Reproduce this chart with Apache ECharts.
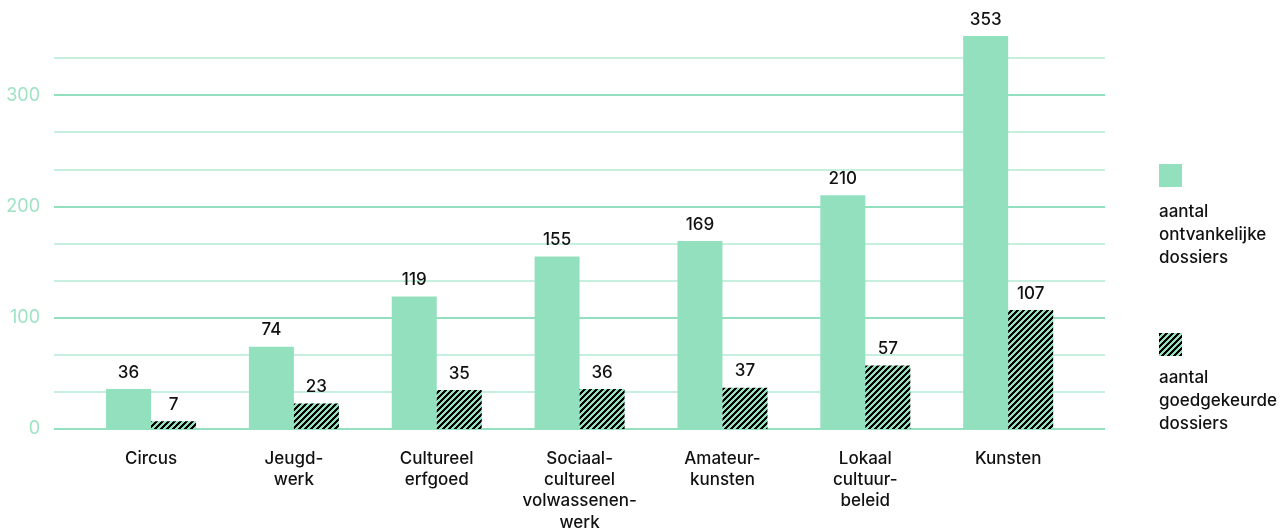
<!DOCTYPE html>
<html>
<head>
<meta charset="utf-8">
<script src="https://cdn.jsdelivr.net/npm/echarts@6/dist/echarts.min.js"></script>
<style>
html,body{margin:0;padding:0;background:#fff;}
#chart{width:1285px;height:528px;}
</style>
</head>
<body>
<div id="chart"></div>
<script>
const categories = ['Circus', 'Jeugd-\nwerk', 'Cultureel\nerfgoed', 'Sociaal-\ncultureel\nvolwassenen-\nwerk', 'Amateur-\nkunsten', 'Lokaal\ncultuur-\nbeleid', 'Kunsten'];
const ontvankelijk = [36, 74, 119, 155, 169, 210, 353];
const goedgekeurd = [7, 23, 35, 36, 37, 57, 107];
const seriesNames = ['aantal\nontvankelijke\ndossiers', 'aantal\ngoedgekeurde\ndossiers'];
const yMajorTicks = [0, 100, 200, 300];

const GREEN = '#93e0bf';
const LIGHT = '#c6efdd';
const FONT = 'Inter, "Liberation Sans", Arial, sans-serif';

function hatch() {
  const c = document.createElement('canvas');
  c.width = 6; c.height = 6;
  const ctx = c.getContext('2d');
  for (let x = 0; x < 6; x++) for (let y = 0; y < 6; y++) {
    ctx.fillStyle = ((x + y) % 6) < 3 ? '#000' : GREEN;
    ctx.fillRect(x, y, 1, 1);
  }
  return c;
}
const pattern = { image: hatch(), repeat: 'repeat' };

const yMax = 1000 / 3;
const chart = echarts.init(document.getElementById('chart'), null, { renderer: 'canvas' });
const labelStyle = { show: true, position: 'top', distance: 8, color: '#111', fontSize: 17, fontFamily: FONT, fontWeight: 500 };

chart.setOption({
  animation: false,
  textStyle: { fontFamily: FONT },
  grid: [
    { left: 54, right: 180, top: 58, bottom: 99, outerBoundsMode: 'none', containLabel: false },
    { left: 79.6, right: 205.4, top: 58, bottom: 99, outerBoundsMode: 'none', containLabel: false }
  ],
  xAxis: [
    { type: 'value', gridIndex: 0, show: false, min: 0, max: 1 },
    { type: 'category', gridIndex: 1, data: categories,
      axisLine: { show: false }, axisTick: { show: false },
      axisLabel: { color: '#111', fontSize: 17, fontFamily: FONT, fontWeight: 500, lineHeight: 21.3, margin: 19, interval: 0 } }
  ],
  yAxis: [
    { type: 'value', gridIndex: 0, min: 0, max: yMax, interval: 100 / 3,
      axisLine: { show: false }, axisTick: { show: false }, axisLabel: { show: false },
      splitLine: { show: true, lineStyle: { color: LIGHT, width: 2 } } },
    { type: 'value', gridIndex: 0, min: 0, max: yMax, interval: 100, position: 'left',
      axisLine: { show: false }, axisTick: { show: false },
      axisLabel: { color: '#9fe3c5', fontSize: 18, fontFamily: FONT, margin: 14,
        formatter: v => yMajorTicks.includes(Math.round(v)) && Math.abs(v - Math.round(v)) < 1e-6 ? String(Math.round(v)) : '' },
      splitLine: { show: true, lineStyle: { color: [GREEN, GREEN, GREEN, GREEN, 'rgba(0,0,0,0)'], width: 2 } } },
    { type: 'value', gridIndex: 1, min: 0, max: yMax, show: false, splitLine: { show: false } }
  ],
  series: [
    { type: 'bar', name: 'a', xAxisIndex: 1, yAxisIndex: 2, data: ontvankelijk, barWidth: 45, barGap: '0%', clip: false,
      itemStyle: { color: GREEN }, label: labelStyle },
    { type: 'bar', name: 'b', xAxisIndex: 1, yAxisIndex: 2, data: goedgekeurd, barWidth: 45, barGap: '0%', clip: false,
      itemStyle: { color: pattern }, label: labelStyle }
  ],
  graphic: [
    { type: 'rect', left: 1159, top: 164, shape: { width: 23, height: 23 }, style: { fill: GREEN } },
    { type: 'text', left: 1159, top: 200, style: { text: seriesNames[0], fill: '#111', font: '500 17px ' + FONT, lineHeight: 23 } },
    { type: 'rect', left: 1159, top: 333, shape: { width: 23, height: 23 }, style: { fill: pattern } },
    { type: 'text', left: 1159, top: 366, style: { text: seriesNames[1], fill: '#111', font: '500 17px ' + FONT, lineHeight: 23 } }
  ]
});
</script>
</body>
</html>
